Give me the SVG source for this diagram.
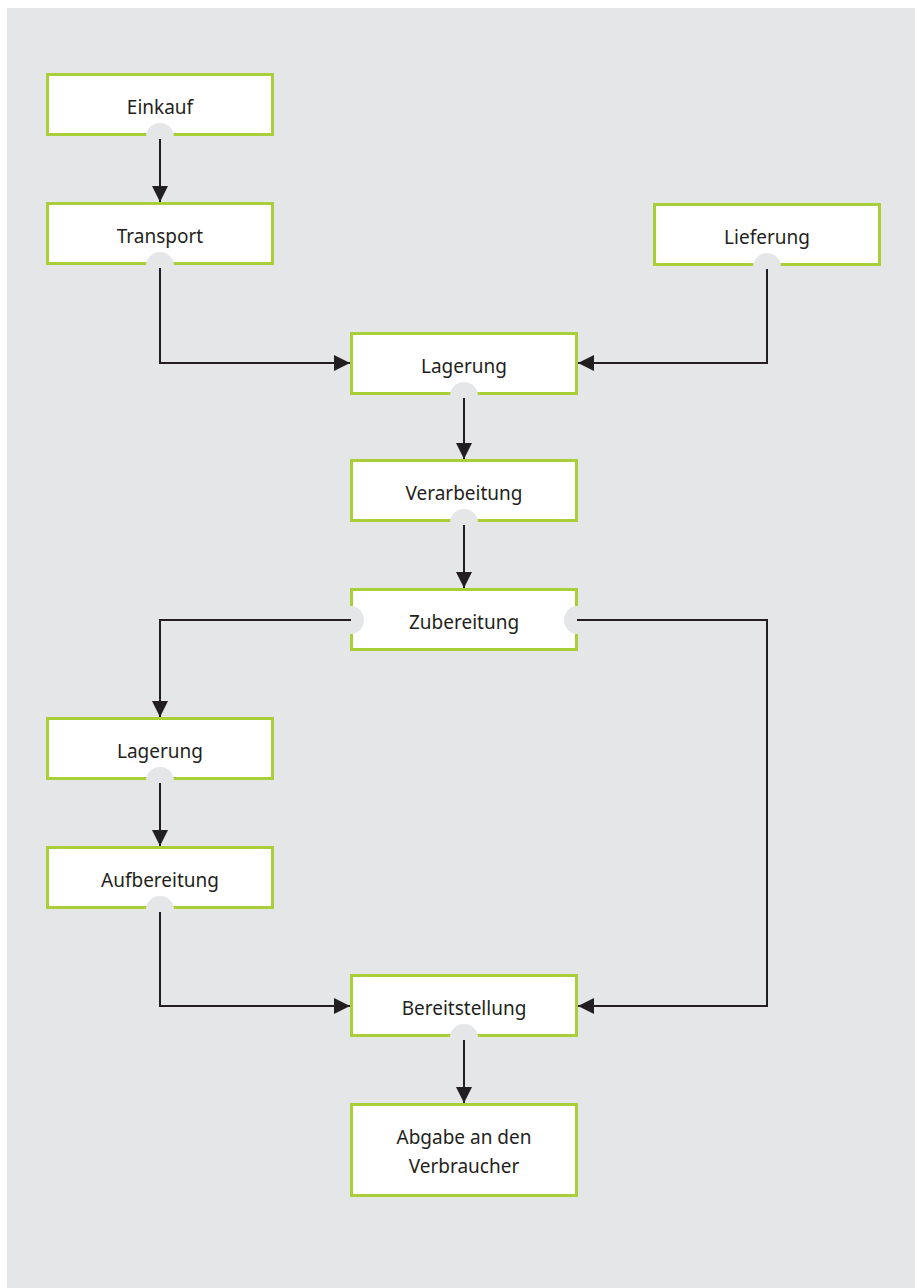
<svg xmlns="http://www.w3.org/2000/svg" width="915" height="1288" viewBox="0 0 915 1288">
<style>
.box{fill:#ffffff;stroke:#a8cf38;stroke-width:3}
.port{fill:#e5e6e8}
.lbl{font-family:"Noto Sans","Open Sans","Liberation Sans",sans-serif;font-size:19px;fill:#231f20;text-anchor:middle}
.con{fill:none;stroke:#231f20;stroke-width:2}
</style>
<defs>
<marker id="arr" markerUnits="userSpaceOnUse" markerWidth="16" markerHeight="16" refX="16" refY="8" orient="auto">
<path d="M0,0 L16,8 L0,16 z" fill="#231f20"/>
</marker>
</defs>
<rect x="0" y="0" width="915" height="1288" fill="#ffffff"/>
<rect x="7" y="8" width="908" height="1280" fill="#e5e6e8"/>

<g id="einkauf"><rect class="box" x="47.5" y="74.5" width="225" height="60"/><circle class="port" cx="160" cy="137" r="14"/><text class="lbl" x="160" y="114">Einkauf</text></g>
<g id="transport"><rect class="box" x="47.5" y="203.5" width="225" height="60"/><circle class="port" cx="160" cy="266" r="14"/><text class="lbl" x="160" y="243">Transport</text></g>
<g id="lieferung"><rect class="box" x="654.5" y="204.5" width="225" height="60"/><circle class="port" cx="767" cy="267" r="14"/><text class="lbl" x="767" y="244">Lieferung</text></g>
<g id="lagerung1"><rect class="box" x="351.5" y="333.5" width="225" height="60"/><circle class="port" cx="464" cy="396" r="14"/><text class="lbl" x="464" y="373">Lagerung</text></g>
<g id="verarbeitung"><rect class="box" x="351.5" y="460.5" width="225" height="60"/><circle class="port" cx="464" cy="523" r="14"/><text class="lbl" x="464" y="500">Verarbeitung</text></g>
<g id="zubereitung"><rect class="box" x="351.5" y="589.5" width="225" height="60"/><circle class="port" cx="350" cy="620" r="14"/><circle class="port" cx="578" cy="620" r="14"/><text class="lbl" x="464" y="629">Zubereitung</text></g>
<g id="lagerung2"><rect class="box" x="47.5" y="718.5" width="225" height="60"/><circle class="port" cx="160" cy="781" r="14"/><text class="lbl" x="160" y="758">Lagerung</text></g>
<g id="aufbereitung"><rect class="box" x="47.5" y="847.5" width="225" height="60"/><circle class="port" cx="160" cy="910" r="14"/><text class="lbl" x="160" y="887">Aufbereitung</text></g>
<g id="bereitstellung"><rect class="box" x="351.5" y="975.5" width="225" height="60"/><circle class="port" cx="464" cy="1038" r="14"/><text class="lbl" x="464" y="1015">Bereitstellung</text></g>
<g id="abgabe"><rect class="box" x="351.5" y="1104.5" width="225" height="91"/><text class="lbl" x="464" y="1144">Abgabe an den</text><text class="lbl" x="464" y="1173">Verbraucher</text></g>

<g id="connectors">
<path class="con" d="M160 139 V202" marker-end="url(#arr)"/>
<path class="con" d="M160 268 V363 H350" marker-end="url(#arr)"/>
<path class="con" d="M767 269 V363 H578" marker-end="url(#arr)"/>
<path class="con" d="M464 398 V459" marker-end="url(#arr)"/>
<path class="con" d="M464 525 V588" marker-end="url(#arr)"/>
<path class="con" d="M351 620 H160 V717" marker-end="url(#arr)"/>
<path class="con" d="M577 620 H767 V1006 H578" marker-end="url(#arr)"/>
<path class="con" d="M160 783 V846" marker-end="url(#arr)"/>
<path class="con" d="M160 912 V1006 H350" marker-end="url(#arr)"/>
<path class="con" d="M464 1040 V1103" marker-end="url(#arr)"/>
</g>
</svg>
